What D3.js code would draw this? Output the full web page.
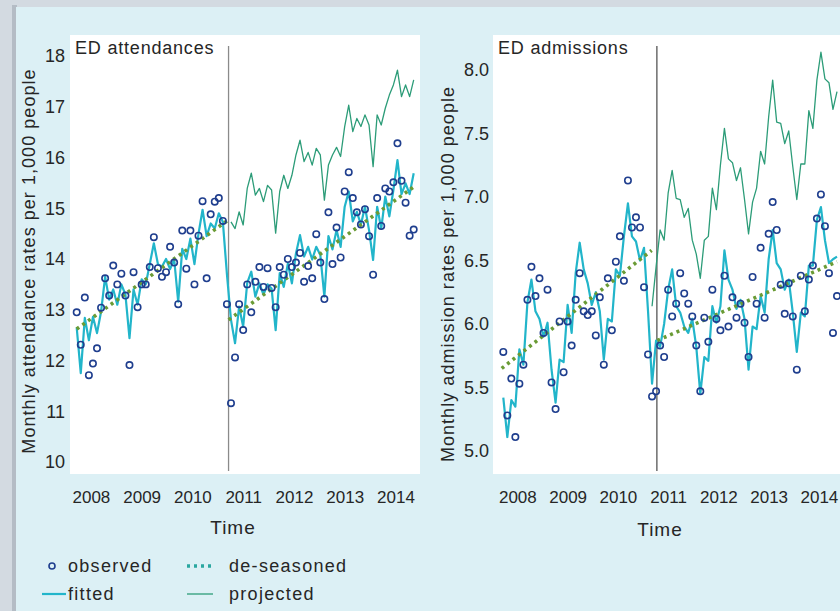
<!DOCTYPE html>
<html><head><meta charset="utf-8">
<script src="https://cdn.jsdelivr.net/npm/d3@7"></script>
<style>
html,body{margin:0;padding:0;background:#d3dae1;}
svg{display:block;font-family:"Liberation Sans",Arial,Helvetica,sans-serif;}
</style></head>
<body>
<svg id="chart" width="840" height="611"></svg>
<script>
// ---------------- data (monthly index 0..83) ----------------
const yearLabels = ["2008","2009","2010","2011","2012","2013","2014"];
const yearTickIdx = [3.5, 16.0, 28.5, 41.0, 53.5, 66.0, 78.5];

const attTicks = [10,11,12,13,14,15,16,17,18];
const admTicks = [5.0,5.5,6.0,6.5,7.0,7.5,8.0];

const attObserved = [12.95,12.31,13.24,11.71,11.94,12.24,13.04,13.62,13.28,13.87,
 13.50,13.71,13.28,11.91,13.74,13.05,13.50,13.50,13.84,14.43,
 13.82,13.65,13.74,14.24,13.93,13.11,14.56,13.81,14.56,13.50,
 14.46,15.14,13.62,14.88,15.13,15.20,14.75,13.11,11.16,12.06,
 13.11,12.60,13.50,12.95,13.55,13.84,13.45,13.82,13.43,13.05,
 13.84,13.69,14.00,13.84,13.93,14.12,13.55,13.86,13.62,14.49,
 13.93,13.21,14.92,13.90,14.62,14.03,15.33,15.71,15.20,14.92,
 14.68,14.98,14.45,13.69,15.20,14.65,15.39,15.33,15.51,16.28,
 15.54,15.11,14.46,14.58];
const attFitted = [12.65,11.75,12.84,12.40,12.86,12.54,12.96,13.65,13.20,13.40,
 13.10,13.50,13.30,12.44,13.40,13.10,13.60,13.50,13.90,14.31,
 13.90,13.85,14.00,13.80,14.00,13.16,14.20,14.00,14.40,13.90,
 14.50,14.97,14.45,14.70,14.60,14.90,14.73,13.70,12.80,12.34,
 13.06,12.67,13.53,13.75,13.26,13.52,13.30,13.50,13.42,12.60,
 13.72,13.45,13.91,13.52,14.11,14.47,14.05,14.24,13.99,14.24,
 14.08,13.26,14.45,14.19,14.57,14.24,15.03,15.33,14.74,14.93,
 14.68,15.03,14.57,13.98,15.03,14.60,15.23,14.84,15.36,15.95,
 15.28,15.49,15.28,15.69];
const attProjectedStart = 38;
const attProjected = [14.73,14.60,14.93,14.67,15.39,15.69,15.26,15.39,15.13,15.45,
 15.36,14.51,15.33,15.65,15.39,15.65,16.05,16.34,15.92,16.10,
 15.85,16.18,16.05,15.16,15.85,16.05,16.20,16.02,16.61,17.03,
 16.51,16.77,16.61,16.84,16.64,15.82,16.84,16.64,16.97,17.23,
 17.43,17.72,17.20,17.43,17.20,17.53];
const attDeseasonedPre = [{i:0, v:12.62},{i:37, v:14.75}];
const attDeseasonedPost = [{i:37.4, v:12.80},{i:83, v:15.42}];
const attIntervention = 37.4;

const admObserved = [5.78,5.28,5.57,5.11,5.53,5.68,6.19,6.45,6.22,6.36,
 5.93,6.27,5.54,5.33,6.02,5.62,6.02,5.83,6.19,6.40,
 6.10,6.07,6.10,5.91,6.21,5.68,6.36,5.95,6.49,6.69,
 6.34,7.13,6.76,6.84,6.76,6.29,5.76,5.43,5.47,5.83,
 5.74,6.27,6.06,6.16,6.40,6.24,6.16,6.06,5.83,5.47,
 6.05,5.86,6.27,6.04,5.95,6.38,5.98,6.21,6.05,6.16,
 6.01,5.74,6.37,6.16,6.60,6.05,6.71,6.96,6.74,6.31,
 6.08,6.32,6.06,5.64,6.38,6.10,6.35,6.46,6.83,7.02,
 6.77,6.40,5.93,6.22];
const admFitted = [5.42,5.11,5.40,5.35,5.80,5.68,6.17,6.35,6.10,6.04,
 5.90,6.01,5.64,5.38,5.72,5.70,6.15,5.93,6.40,6.64,
 6.43,6.32,6.15,6.25,6.10,5.72,6.04,6.02,6.43,6.38,
 6.69,6.95,6.69,6.65,6.50,6.60,6.10,5.53,5.87,5.82,
 6.00,6.27,6.43,6.14,6.09,5.98,5.93,6.04,5.82,5.45,
 5.74,5.71,6.14,6.01,6.14,6.58,6.35,6.27,6.12,6.19,
 6.04,5.64,5.98,5.96,6.22,6.09,6.51,6.74,6.48,6.43,
 6.27,6.35,6.09,5.78,6.09,6.06,6.46,6.46,6.82,6.92,
 6.66,6.48,6.51,6.53];
const admProjectedStart = 37;
const admProjected = [6.14,6.45,6.74,6.66,7.03,7.21,6.99,6.98,6.84,6.91,
 6.66,6.55,6.36,6.66,6.69,7.07,6.90,7.25,7.54,7.30,
 7.27,7.13,7.23,6.98,6.71,6.96,7.07,7.36,7.26,7.63,
 7.92,7.59,7.58,7.42,7.52,7.24,6.98,7.26,7.26,7.68,
 7.54,7.92,8.14,7.93,7.90,7.69,7.83];
const admDeseasonedPre = [{i:-0.4, v:5.65},{i:36.9, v:6.58}];
const admDeseasonedPost = [{i:38.3, v:5.87},{i:83, v:6.49}];
const admIntervention = 38.2;

// ---------------- styles ----------------
const C = {
  observed:"#1f3e8e", fitted:"#22b5ca", deseason:"#6a9b35", projected:"#2c9c78",
  text:"#262626", card:"#dcf0f5", frame:"#d3dae1", edge:"#9aa4ae"
};

const svg = d3.select("#chart");
// frame & card
svg.append("rect").attr("x",0).attr("y",0).attr("width",840).attr("height",611).attr("fill",C.frame);
svg.append("rect").attr("x",12).attr("y",5).attr("width",5).attr("height",606).attr("fill",C.edge).attr("opacity",0.55);
svg.append("rect").attr("x",16).attr("y",7).attr("width",830).attr("height",610).attr("fill",C.card);

const panels = [
  {title:"ED attendances", ytitle:"Monthly attendance rates per 1,000 people",
   obs:attObserved, fit:attFitted, proj:attProjected, projStart:attProjectedStart,
   dPre:attDeseasonedPre, dPost:attDeseasonedPost, interv:attIntervention,
   ticks:attTicks, fmt:d3.format("d"), lineColor:"#8a8a8a",
   plot:{x0:70, x1:420}, xr:[76.7, 413.7], yDom:[10,18], yRng:[462,56],
   axisX:68, ytx:35, yty:261, timeX:233, timeY:534},
  {title:"ED admissions", ytitle:"Monthly admission rates per 1,000 people",
   obs:admObserved, fit:admFitted, proj:admProjected, projStart:admProjectedStart,
   dPre:admDeseasonedPre, dPost:admDeseasonedPost, interv:admIntervention,
   ticks:admTicks, fmt:d3.format(".1f"), lineColor:"#555",
   plot:{x0:493, x1:860}, xr:[503.3, 837], yDom:[5,8], yRng:[451,70],
   axisX:492, ytx:454, yty:274, timeX:660, timeY:536}
];

const plotTop = 35, plotBottom = 474;

panels.forEach(p => {
  const x = d3.scaleLinear().domain([0, 83]).range(p.xr);
  const y = d3.scaleLinear().domain(p.yDom).range(p.yRng);
  const g = svg.append("g");

  g.append("rect").attr("x",p.plot.x0).attr("y",plotTop)
    .attr("width",p.plot.x1-p.plot.x0).attr("height",plotBottom-plotTop).attr("fill","#fff");

  const cid = "clip"+p.plot.x0;
  svg.append("clipPath").attr("id",cid).append("rect")
    .attr("x",p.plot.x0).attr("y",plotTop).attr("width",p.plot.x1-p.plot.x0).attr("height",plotBottom-plotTop);
  const pg = g.append("g").attr("clip-path",`url(#${cid})`);

  // intervention line
  pg.append("line").attr("x1",x(p.interv)).attr("x2",x(p.interv))
    .attr("y1",46).attr("y2",471).attr("stroke",p.lineColor).attr("stroke-width",1.3);

  const line = d3.line().x(d=>x(d.i)).y(d=>y(d.v));

  const projData = p.proj.map((v,k)=>({i:p.projStart+k, v}));
  pg.append("path").datum(projData).attr("d",line).attr("fill","none")
    .attr("stroke",C.projected).attr("stroke-width",1.3).attr("stroke-linejoin","round");

  const fitData = p.fit.map((v,i)=>({i, v}));
  pg.append("path").datum(fitData).attr("d",line).attr("fill","none")
    .attr("stroke",C.fitted).attr("stroke-width",2.2).attr("stroke-linejoin","round");

  [p.dPre, p.dPost].forEach(seg => {
    pg.append("path").datum(seg).attr("d",line).attr("fill","none")
      .attr("stroke",C.deseason).attr("stroke-width",3.6).attr("stroke-dasharray","3,4");
  });

  pg.selectAll("circle.obs").data(p.obs).join("circle").attr("class","obs")
    .attr("cx",(d,i)=>x(i)).attr("cy",d=>y(d)).attr("r",3.2)
    .attr("fill","none").attr("stroke",C.observed).attr("stroke-width",1.6);

  const ya = d3.axisLeft(y).tickValues(p.ticks).tickFormat(p.fmt).tickSize(0).tickPadding(3);
  const yg = g.append("g").attr("transform",`translate(${p.axisX},0)`).call(ya);
  yg.select(".domain").remove();
  yg.selectAll("text").attr("font-size",18).attr("fill",C.text)
    .style("font-family","'Liberation Sans',Arial,sans-serif");

  const xa = d3.axisBottom(x).tickValues(yearTickIdx).tickFormat((d,i)=>yearLabels[i]).tickSize(0).tickPadding(17);
  const xg = g.append("g").attr("transform",`translate(0,${plotBottom})`).call(xa);
  xg.select(".domain").remove();
  xg.selectAll("text").attr("font-size",17).attr("fill",C.text)
    .style("font-family","'Liberation Sans',Arial,sans-serif");

  g.append("text").attr("x",p.plot.x0+5).attr("y",54).text(p.title)
    .attr("font-size",18).attr("letter-spacing",0.8).attr("fill",C.text);
  g.append("text").attr("transform",`translate(${p.ytx},${p.yty}) rotate(-90)`)
    .attr("text-anchor","middle").text(p.ytitle)
    .attr("font-size",18).attr("letter-spacing",1.05).attr("fill",C.text);
  g.append("text").attr("x",p.timeX).attr("y",p.timeY).attr("text-anchor","middle").text("Time")
    .attr("font-size",19).attr("letter-spacing",1).attr("fill",C.text);
});

// legend
const lg = svg.append("g").attr("font-size",18).attr("letter-spacing",1.3).attr("fill",C.text);
lg.append("circle").attr("cx",52).attr("cy",566).attr("r",3).attr("fill","none")
  .attr("stroke",C.observed).attr("stroke-width",1.6);
lg.append("text").attr("x",68).attr("y",572).text("observed");
lg.append("line").attr("x1",42).attr("x2",66).attr("y1",594).attr("y2",594)
  .attr("stroke",C.fitted).attr("stroke-width",2.2);
lg.append("text").attr("x",68).attr("y",600).text("fitted");
lg.append("line").attr("x1",187).attr("x2",214).attr("y1",566).attr("y2",566)
  .attr("stroke","#2aa7a0").attr("stroke-width",3.6).attr("stroke-dasharray","3,4");
lg.append("text").attr("x",229).attr("y",572).text("de-seasoned");
lg.append("line").attr("x1",187).attr("x2",213).attr("y1",594).attr("y2",594)
  .attr("stroke",C.projected).attr("stroke-width",1.3);
lg.append("text").attr("x",229).attr("y",600).text("projected");
</script>
</body></html>
